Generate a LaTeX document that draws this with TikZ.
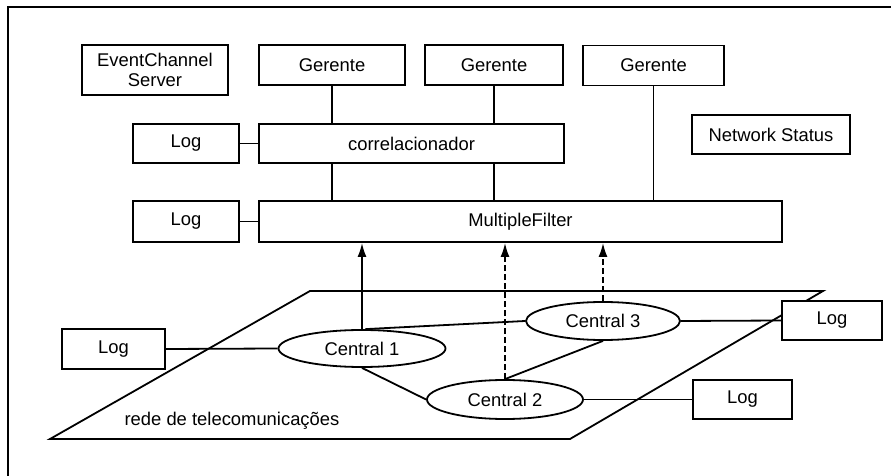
\documentclass[tikz,border=0pt]{standalone}
\usepackage{fontspec}
\setmainfont{Liberation Sans}
\usetikzlibrary{shapes.geometric,arrows.meta}
\tikzset{
  caixa/.style={draw,fill=white,rectangle,line width=0.9pt,inner sep=0pt,
    minimum height=19.5pt,font=\fontsize{9.2}{11}\selectfont},
  central/.style={draw,fill=white,ellipse,line width=0.9pt,inner sep=0pt,
    minimum height=19pt,font=\fontsize{9.2}{11}\selectfont},
  liga/.style={line width=0.9pt},
  fluxo/.style={line width=0.9pt,-{Latex[length=7pt,width=4.5pt]}},
  fluxotr/.style={fluxo,dash pattern=on 3pt off 1.5pt}
}
\begin{document}
\begin{tikzpicture}[x=0.5pt,y=-0.5pt]
      \useasboundingbox (0,0) rectangle (891,476);
      % moldura
      \draw[line width=1pt] (8,476) -- (8,7) -- (891,7);
      % rede
      \draw[line width=0.9pt] (310,291) -- (823,291) -- (570,439) -- (50,439) -- cycle;
      \node[font=\fontsize{9.2}{11}\selectfont] (rede) at (232,421) {rede de telecomunica\c{c}\~oes};
      \draw
        (155,70) node[caixa,minimum width=73pt,minimum height=25pt,align=center] (ecs){EventChannel\\[-1pt]Server}
        (332,65) node[caixa,minimum width=73pt,minimum height=20pt] (ger1){Gerente}
        (494,65) node[caixa,minimum width=69pt,minimum height=20pt] (ger2){Gerente}
        (653.5,65.5) node[caixa,minimum width=70.5pt,minimum height=20pt] (ger3){Gerente}
        (186,143.5) node[caixa,minimum width=53pt] (logc){Log}
        (411.5,143.5) node[caixa,minimum width=152.5pt] (corr){correlacionador}
        (771,134.5) node[caixa,minimum width=79pt] (netst){Network Status}
        (186,221.5) node[caixa,minimum width=53pt,minimum height=20.5pt] (logm){Log}
        (520.5,221.5) node[caixa,minimum width=261.5pt,minimum height=20.5pt] (mf){MultipleFilter}
        (113.5,349) node[caixa,minimum width=51.5pt,minimum height=20pt] (logl){Log}
        (832,320.5) node[caixa,minimum width=50pt] (logr){Log}
        (742.5,399.5) node[caixa,minimum width=49.5pt] (logb){Log};
      \begin{scope}[liga]
        \draw (ger1.south) to (ger1.south |- corr.north);
        \draw (ger1.south |- corr.south) to (ger1.south |- mf.north);
        \draw (ger2.south) to (ger2.south |- corr.north);
        \draw (ger2.south |- corr.south) to (ger2.south |- mf.north);
        \draw (ger3.south) to (ger3.south |- mf.north);
        \draw (logc.east) to (corr.west);
        \draw (logm.east) to (mf.west);
      \end{scope}
      \draw
        (362,348.5) node[central,minimum width=83.5pt,minimum height=18.5pt] (c1){Central 1}
        (505,399.5) node[central,minimum width=78pt,minimum height=19.5pt] (c2){Central 2}
        (603,321) node[central,minimum width=77pt] (c3){Central 3};
      \begin{scope}[liga]
        \draw (logl.east) to (c1.west);
        \draw (c1.80) to (c3.west);
        \draw (c1.south) to (c2.west);
        \draw (c2.north) to (c3.south);
        \draw (c3.east) to (logr.west);
        \draw (c2.east) to (logb.west);
      \end{scope}
      \draw[fluxo] (c1.north) to (c1.north |- mf.south);
      \draw[fluxotr] (c2.north) to (c2.north |- mf.south);
      \draw[fluxotr] (c3.north) to (c3.north |- mf.south);
    \end{tikzpicture}
\end{document}
